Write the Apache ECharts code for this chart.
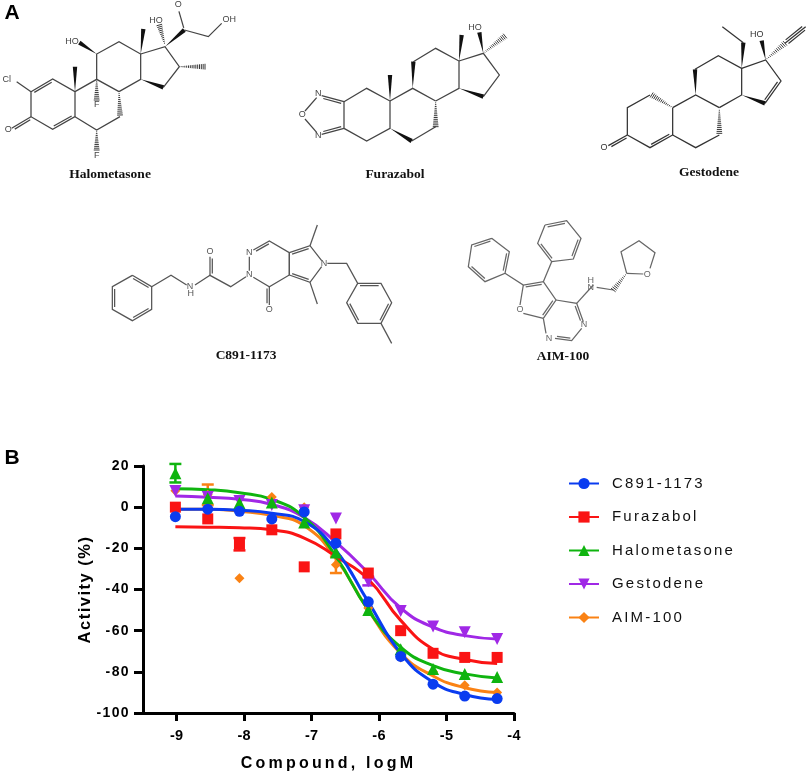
<!DOCTYPE html>
<html><head><meta charset="utf-8">
<style>html,body{margin:0;padding:0;background:#fff}#c{width:809px;height:773px}</style>
<script src="https://cdn.jsdelivr.net/npm/echarts@6/dist/echarts.min.js"></script>
</head><body><div id="c"></div>
<script>
// ---------- data ----------
const doses = [-9.02,-8.54,-8.07,-7.59,-7.11,-6.64,-6.16,-5.68,-5.20,-4.73,-4.25];
const names = ['C891-1173','Furazabol','Halometasone','Gestodene','AIM-100'];
const pointsC891   = [-4.6,-1,-2,-5.7,-2.3,-17.5,-46,-72.5,-86,-91.8,-93];
const pointsFura   = [0,-5.7,-18,-11,-29,-13,-32,-60,-71,-73,-73];
const pointsHalo   = [16.5,4.3,2,2.3,-7.4,-22,-50,-69,-78.6,-81,-82.5];
const pointsGest   = [7.8,5,3,1,-1.5,-5.5,-36,-50.5,-58,-60.8,-64];
const pointsAim    = [8,6,-34.5,5,0,-28,-49,-73,-80,-86.5,-90];
const curveC891    = [-1,-1,-1.5,-3,-7,-21,-46,-71,-85,-91,-93.5];
const curveFura    = [-9.5,-9.7,-10,-11,-15,-24,-35,-55,-69,-74,-76];
const curveHalo    = [9,8.5,7,3.8,-5,-24,-50,-68,-77,-81,-83];
const curveGest    = [5.4,4.8,3.8,1.3,-5,-17,-32,-49,-58.3,-62.4,-64];
const curveAim     = [-1,-1,-2,-4,-9,-25,-50,-71,-82,-87.7,-90];
const errC891 = [];
const errFura = [[-8.07,-21,-15]];
const errHalo = [[-9.02,12,21]];
const errGest = [[-6.16,-38,-34]];
const errAim  = [[-8.54,1,11],[-6.64,-32,-24]];
const xTicks = [-9,-8,-7,-6,-5,-4];
const colors = ['#0a3cf0','#fa1414','#0fb40f','#a028e6','#fa8214'];
const symbols = ['circle','rect','triangle','triangle','diamond'];
const rotates = [0,0,0,180,0];
const sizes = [11,11,12,12,10];
const allPoints = [pointsC891,pointsFura,pointsHalo,pointsGest,pointsAim];
const allCurves = [curveC891,curveFura,curveHalo,curveGest,curveAim];
const allErrs = [errC891,errFura,errHalo,errGest,errAim];

// ---------- structure drawings (3x coordinates + page offset) ----------
const structures = [
 {name:'Halometasone',off:[0,0],color:'#444',label:[110,175],
  lines:[[[50,245],[93,275]],[[93,275],[158,237],[225,275],[225,350],[158,388],[93,350],[93,275]],[[93,350],[35,385]],
   [[225,275],[290,238],[357,275]],[[360,350],[290,390],[225,350]],[[290,238],[290,162],[357,125],[422,162],[422,238],[357,275]],
   [[422,162],[495,140],[538,200],[490,262]],[[553,90],[625,110],[665,70]]],
  doubles:[[[93,275],[158,237],1],[[225,350],[158,388],1],[[93,350],[35,385],-1],[[553,90],[535,28],0]],
  wedges:[[[225,275],[225,200]],[[290,162],[238,128]],[[422,162],[430,87]],[[422,238],[490,262]],[[495,140],[553,90]]],
  hashes:[[[290,238],[290,300]],[[357,275],[360,345]],[[290,390],[290,450]],[[538,200],[615,200]],[[495,135],[478,75]]],
  atoms:[['Cl',20,238],['O',25,390],['F',290,315],['F',290,467],['HO',216,125],['HO',468,63],['O',535,14],['OH',688,60]]},
 {name:'Furazabol',off:[270,0],color:'#444',label:[395,175],
  lines:[[[222,305],[155,287]],[[222,385],[155,403]],[[140,293],[105,333]],[[105,357],[140,397]],[[222,305],[222,385]],
   [[222,305],[290,265],[360,303],[360,385],[290,423],[222,385]],[[360,303],[428,265],[497,303]],
   [[430,185],[497,145],[567,183],[567,265],[497,303]],[[425,423],[497,380]],[[567,183],[640,160],[688,225],[640,290]]],
  doubles:[[[222,305],[155,287],-1],[[222,385],[155,403],1]],
  wedges:[[[360,303],[360,225]],[[428,265],[430,185]],[[360,385],[425,423]],[[567,183],[575,105]],[[567,265],[640,290]],[[640,160],[628,97]]],
  hashes:[[[497,303],[497,380]],[[640,160],[705,108]]],
  atoms:[['N',145,280],['O',97,344],['N',145,407],['HO',615,82]]},
 {name:'Gestodene',off:[540,0],color:'#333',label:[709,173],
  lines:[[[262,405],[262,323],[330,285]],[[398,323],[398,405],[330,443],[262,405]],[[262,405],[205,437]],[[398,405],[467,443],[538,405]],
   [[398,323],[467,285],[538,323]],[[465,208],[535,167],[605,205],[605,285],[538,323]],[[675,310],[723,243],[677,180],[605,205]],
   [[610,128],[547,80]],[[735,130],[797,80]]],
  doubles:[[[398,405],[330,443],1],[[262,405],[205,437],-1],[[675,310],[723,243],-1],[[735,130],[797,80],1],[[735,130],[797,80],-1]],
  wedges:[[[467,285],[465,208]],[[605,285],[675,310]],[[605,205],[610,128]],[[677,180],[665,122]]],
  hashes:[[[398,323],[335,285]],[[538,325],[538,400]],[[677,180],[735,130]]],
  atoms:[['O',192,442],['HO',650,103]]},
 {name:'C891-1173',off:[90,230],color:'#555',label:[246,356],
  lines:[[[127,136],[185,170],[185,238],[127,272],[67,238],[67,170],[127,136]],[[185,170],[243,136],[290,165]],[[315,165],[360,136],[422,170],[468,140]],
   [[478,80],[478,122]],[[490,142],[538,170],[598,135],[598,68],[538,33],[490,60]],[[598,68],[660,47],[695,92]],[[598,135],[660,157],[695,110]],
   [[660,47],[682,-15]],[[660,157],[682,222]],[[712,100],[770,100],[803,160],[873,160],[905,218],[873,280],[803,280],[770,218],[803,160]],[[873,280],[905,340]],
   [[360,136],[360,80]],[[538,170],[538,225]],[[598,135],[598,68]]],
  doubles:[[[127,136],[185,170],1],[[185,238],[127,272],1],[[67,238],[67,170],1],[[803,160],[873,160],1],[[905,218],[873,280],1],[[803,280],[770,218],1],
   [[360,136],[360,80],1],[[538,170],[538,225],1],[[538,33],[490,60],-1],[[598,68],[660,47],1],[[598,135],[660,157],-1]],
  wedges:[],hashes:[],
  atoms:[['N',300,170],['H',302,190],['O',360,66],['N',478,135],['N',478,68],['O',538,238],['N',702,100]]},
 {name:'AIM-100',off:[440,210],color:'#666',label:[563,357],
  lines:[[[155,85],[208,125],[195,190],[135,215],[85,170],[95,105],[155,85]],[[315,45],[380,32],[423,85],[400,147],[335,155],[293,100],[315,45]],
   [[335,155],[310,215]],[[195,190],[250,225],[310,215],[348,270],[310,325]],[[250,225],[240,285]],[[250,310],[310,325]],[[348,270],[410,280],[430,335]],
   [[425,355],[395,392],[345,385]],[[318,370],[310,325]],[[410,280],[460,225]],[[470,232],[520,240]],[[560,190],[610,192]],[[630,175],[645,128],[597,92],[543,125],[560,190]]],
  doubles:[[[95,105],[155,85],1],[[208,125],[195,190],1],[[135,215],[85,170],1],[[315,45],[380,32],1],[[423,85],[400,147],1],[[335,155],[293,100],1],
   [[250,225],[310,215],1],[[348,270],[310,325],1],[[410,280],[430,335],1],[[395,392],[345,385],1]],
  wedges:[],hashes:[[[560,190],[520,240]]],
  atoms:[['O',240,298],['N',432,343],['N',327,385],['N',452,232],['H',452,212],['O',622,193]]}
];
const panelLabels = [['A',12,13],['B',12,458]];

// per-font letter spacing, the canvas has no option for it in the library
const spacing = {'14px':'1.4px','14.5px':'0.3px','15px':'2.2px','16px':'3.2px','16.5px':'1.5px'};
const origFill = CanvasRenderingContext2D.prototype.fillText;
CanvasRenderingContext2D.prototype.fillText = function(){
  const m = /([\d.]+px)/.exec(this.font);
  const serif = /Serif/i.test(this.font);
  this.letterSpacing = (!serif && m && spacing[m[1]]) || '0px';
  return origFill.apply(this, arguments);
};

function buildGraphic(){
  const els = [];
  const F = 'Liberation Sans';
  structures.forEach(s=>{
    const P = p=>[s.off[0]+p[0]/3, s.off[1]+p[1]/3];
    const st = {stroke:s.color,lineWidth:1.25,fill:null};
    s.lines.forEach(l=>els.push({type:'polyline',silent:true,shape:{points:l.map(P)},style:st}));
    s.doubles.forEach(d=>{
      const a=P(d[0]),b=P(d[1]);const dx=b[0]-a[0],dy=b[1]-a[1],L=Math.hypot(dx,dy);
      const o=2.3*d[2],nx=-dy/L*o,ny=dx/L*o,t=0.1;
      els.push({type:'polyline',silent:true,style:st,shape:{points:[[a[0]+nx+dx*t,a[1]+ny+dy*t],[b[0]+nx-dx*t,b[1]+ny-dy*t]]}});
    });
    s.wedges.forEach(w=>{
      const a=P(w[0]),b=P(w[1]);const dx=b[0]-a[0],dy=b[1]-a[1],L=Math.hypot(dx,dy);
      const nx=-dy/L*2.2,ny=dx/L*2.2;
      els.push({type:'polygon',silent:true,style:{fill:'#111'},shape:{points:[a,[b[0]+nx,b[1]+ny],[b[0]-nx,b[1]-ny]]}});
    });
    s.hashes.forEach(w=>{
      const a=P(w[0]),b=P(w[1]);const dx=b[0]-a[0],dy=b[1]-a[1],L=Math.hypot(dx,dy);
      const n=Math.round(L/1.9);
      for(let i=1;i<=n;i++){const t=i/n,h=2.6*t+0.3,nx=-dy/L*h,ny=dx/L*h,x=a[0]+dx*t,y=a[1]+dy*t;
        els.push({type:'line',silent:true,style:{stroke:'#222',lineWidth:0.9},shape:{x1:x-nx,y1:y-ny,x2:x+nx,y2:y+ny}});}
    });
    s.atoms.forEach(t=>{const p=P([t[1],t[2]]);
      els.push({type:'text',silent:true,x:p[0],y:p[1],style:{text:t[0],fill:s.color,font:'9px "'+F+'"',align:'center',verticalAlign:'middle'}});});
    els.push({type:'text',silent:true,x:s.label[0],y:s.label[1],style:{text:s.name,fill:'#111',font:'bold 13.5px "Liberation Serif"',align:'center',verticalAlign:'middle'}});
  });
  panelLabels.forEach(t=>els.push({type:'text',silent:true,x:t[1],y:t[2],style:{text:t[0],fill:'#000',font:'bold 21px "'+F+'"',align:'center',verticalAlign:'middle'}}));
  return els;
}

const series = [];
// reference stacks the first compound on top, so draw in reverse
for(let i=4;i>=0;i--){
  series.push({name:names[i]+' fit',type:'line',data:doses.map((x,k)=>[x,allCurves[i][k]]),smooth:0.5,showSymbol:false,symbol:'none',
    lineStyle:{color:colors[i],width:3},itemStyle:{color:colors[i]},silent:true,clip:false,z:2});
  series.push({name:names[i]+' error',type:'custom',data:allErrs[i],clip:false,silent:true,z:2,
    renderItem:(p,api)=>{
      const x=api.coord([api.value(0),api.value(1)]),y=api.coord([api.value(0),api.value(2)]);
      const st={stroke:colors[i],lineWidth:2.5,fill:null};
      return {type:'group',children:[
        {type:'line',shape:{x1:x[0],y1:x[1],x2:y[0],y2:y[1]},style:st},
        {type:'line',shape:{x1:x[0]-6,y1:x[1],x2:x[0]+6,y2:x[1]},style:st},
        {type:'line',shape:{x1:y[0]-6,y1:y[1],x2:y[0]+6,y2:y[1]},style:st}]};
    }});
  series.push({name:names[i]+' points',type:'scatter',data:doses.map((x,k)=>[x,allPoints[i][k]]),symbol:symbols[i],symbolRotate:rotates[i],symbolSize:sizes[i],
    itemStyle:{color:colors[i],opacity:1},silent:true,clip:false,z:2});
}
names.forEach((n,i)=>series.push({name:n,type:'line',data:[],symbol:symbols[i],symbolRotate:rotates[i],symbolSize:sizes[i],
  lineStyle:{color:colors[i],width:3},itemStyle:{color:colors[i]}}));

const chart = echarts.init(document.getElementById('c'),null,{renderer:'canvas'});
const axisFont = {fontFamily:'Liberation Sans',fontWeight:'bold',color:'#000'};
chart.setOption({
  animation:false,backgroundColor:'#fff',
  grid:{left:143,right:295,top:466,bottom:60,containLabel:false},
  legend:{data:names,orient:'vertical',left:563,top:471,itemWidth:30,itemHeight:14,itemGap:18.5,selectedMode:false,
    textStyle:{fontFamily:'Liberation Sans',fontSize:15,color:'#111',padding:[0,0,0,8]}},
  xAxis:{type:'value',min:-9.5,max:-4,interval:0.5,splitLine:{show:false},
    axisLine:{onZero:false,lineStyle:{color:'#000',width:3}},
    axisTick:{customValues:xTicks,length:8,lineStyle:{color:'#000',width:3}},
    axisLabel:{customValues:xTicks,margin:15,fontSize:14.5,...axisFont},
    name:'Compound, logM',nameLocation:'middle',nameGap:43,nameTextStyle:{fontSize:16,...axisFont}},
  yAxis:{type:'value',min:-100,max:20,interval:20,splitLine:{show:false},
    axisLine:{lineStyle:{color:'#000',width:3}},axisTick:{length:9,lineStyle:{color:'#000',width:3}},
    axisLabel:{margin:13,fontSize:14,...axisFont},
    name:'Activity (%)',nameLocation:'middle',nameGap:49,nameTextStyle:{fontSize:16.5,...axisFont}},
  series,
  graphic:{elements:buildGraphic()}
});
</script></body></html>
